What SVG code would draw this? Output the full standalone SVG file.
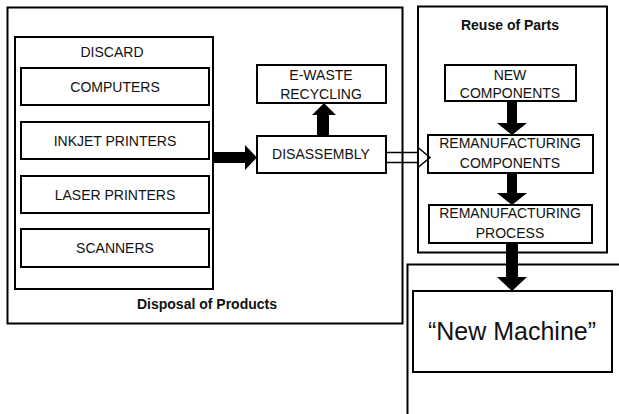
<svg xmlns="http://www.w3.org/2000/svg" width="619" height="414" viewBox="0 0 619 414">
  <style>
    .box { fill: none; stroke: #000; stroke-width: 2; }
    .t { font-family: "Liberation Sans", Arial, sans-serif; font-size: 14px; fill: #111; text-anchor: middle; }
    .b { font-weight: bold; }
    .big { font-size: 25px; }
    .solid { fill: #000; stroke: none; }
    .hollow { fill: none; stroke: #000; stroke-width: 1.5; stroke-linejoin: miter; }
  </style>
  <rect width="619" height="414" fill="#fff"/>

  <!-- Disposal of Products group -->
  <g id="disposal">
    <rect class="box" x="7.5" y="7.5" width="395" height="316"/>
    <text class="t b" x="207" y="309">Disposal of Products</text>
  </g>
  <g id="discard">
    <rect class="box" x="15" y="37" width="198" height="252"/>
    <text class="t" x="112" y="57">DISCARD</text>
  </g>
  <g id="computers">
    <rect class="box" x="21" y="68" width="188" height="37"/>
    <text class="t" x="115" y="92">COMPUTERS</text>
  </g>
  <g id="inkjet">
    <rect class="box" x="21" y="122" width="188" height="37"/>
    <text class="t" x="115" y="146">INKJET PRINTERS</text>
  </g>
  <g id="laser">
    <rect class="box" x="21" y="176" width="188" height="37"/>
    <text class="t" x="115" y="200">LASER PRINTERS</text>
  </g>
  <g id="scanners">
    <rect class="box" x="21" y="229" width="188" height="38"/>
    <text class="t" x="115" y="253">SCANNERS</text>
  </g>
  <g id="ewaste">
    <rect class="box" x="257" y="65" width="129" height="38"/>
    <text class="t" x="321" y="80">E-WASTE</text>
    <text class="t" x="321" y="99">RECYCLING</text>
  </g>
  <g id="disassembly">
    <rect class="box" x="257" y="136" width="129" height="37"/>
    <text class="t" x="321" y="159">DISASSEMBLY</text>
  </g>

  <!-- Reuse of Parts group -->
  <g id="reuse">
    <rect class="box" x="418" y="6.5" width="189" height="246"/>
    <text class="t b" x="510" y="30">Reuse of Parts</text>
  </g>
  <g id="new-components">
    <rect class="box" x="445" y="65" width="131" height="36"/>
    <text class="t" x="510" y="80">NEW</text>
    <text class="t" x="510" y="98">COMPONENTS</text>
  </g>
  <g id="reman-components">
    <rect class="box" x="428" y="135" width="165" height="38"/>
    <text class="t" x="510" y="148">REMANUFACTURING</text>
    <text class="t" x="510" y="168">COMPONENTS</text>
  </g>
  <g id="reman-process">
    <rect class="box" x="429" y="205" width="163" height="38"/>
    <text class="t" x="510" y="218">REMANUFACTURING</text>
    <text class="t" x="510" y="238">PROCESS</text>
  </g>

  <!-- New Machine group -->
  <g id="new-machine-frame">
    <polyline class="box" points="407.5,414 407.5,264.5 619,264.5"/>
  </g>
  <g id="new-machine">
    <rect class="box" x="413" y="291" width="199" height="81"/>
    <text class="t big" x="512" y="340">“New Machine”</text>
  </g>

  <!-- connectors -->
  <g id="connectors">
    <!-- discard -> disassembly -->
    <polygon class="solid" points="213,152 245,152 245,145 257,157.5 245,170 245,163 213,163"/>
    <!-- disassembly -> e-waste recycling -->
    <polygon class="solid" points="317,136 317,115 312,115 324,103 336,115 329,115 329,136"/>
    <!-- disassembly -> remanufacturing components (hollow) -->
    <polygon class="hollow" points="386,152.5 418,152.5 418,147.5 430,157.5 418,167.5 418,162.5 386,162.5"/>
    <!-- new components -> remanufacturing components -->
    <polygon class="solid" points="507,101 507,123 497,123 512,135 527,123 517,123 517,101"/>
    <!-- remanufacturing components -> process -->
    <polygon class="solid" points="507,173 507,193 497,193 512,205 527,193 517,193 517,173"/>
    <!-- process -> new machine -->
    <polygon class="solid" points="506,243 506,277 497,277 512,291 527,277 518,277 518,243"/>
  </g>
</svg>
